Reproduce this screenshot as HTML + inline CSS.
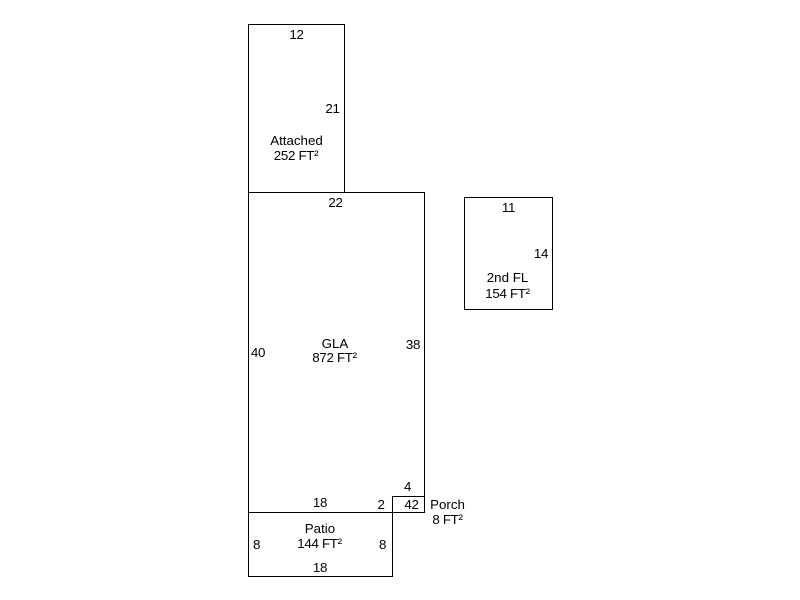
<!DOCTYPE html>
<html><head><meta charset="utf-8"><style>
html,body{margin:0;padding:0;background:#fff}
svg{display:block}
text{font-family:"Liberation Sans",Arial,sans-serif;font-size:13.33px;fill:#000;text-anchor:middle;letter-spacing:-0.3px}
text.w{letter-spacing:0}
rect{fill:none;stroke:#000;stroke-width:1;shape-rendering:crispEdges}
</style></head><body>
<svg width="800" height="600" viewBox="0 0 800 600" xmlns="http://www.w3.org/2000/svg">
<rect x="248.5" y="24.5" width="96" height="168"/>
<rect x="248.5" y="192.5" width="176" height="320"/>
<rect x="392.5" y="496.5" width="32" height="16"/>
<rect x="248.5" y="512.5" width="144" height="64"/>
<rect x="464.5" y="197.5" width="88" height="112"/>
<text x="296.500" y="39">12</text>
<text x="332.500" y="113">21</text>
<text class="w" x="296.500" y="145">Attached</text>
<text x="296" y="160">252 FT²</text>
<text x="335.500" y="207">22</text>
<text x="258" y="357">40</text>
<text x="413" y="349">38</text>
<text class="w" x="335" y="348">GLA</text>
<text x="334.500" y="362">872 FT²</text>
<text x="407.500" y="491">4</text>
<text x="320" y="507">18</text>
<text x="381" y="509">2</text>
<text x="411.500" y="509">42</text>
<text class="w" x="447.500" y="509">Porch</text>
<text x="447.500" y="524">8 FT²</text>
<text class="w" x="320" y="533">Patio</text>
<text x="319.500" y="548">144 FT²</text>
<text x="256.500" y="549">8</text>
<text x="382.500" y="549">8</text>
<text x="320" y="572">18</text>
<text x="508.500" y="212">11</text>
<text x="541" y="258">14</text>
<text class="w" x="507.500" y="282">2nd FL</text>
<text x="507.500" y="298">154 FT²</text>
</svg>
</body></html>
